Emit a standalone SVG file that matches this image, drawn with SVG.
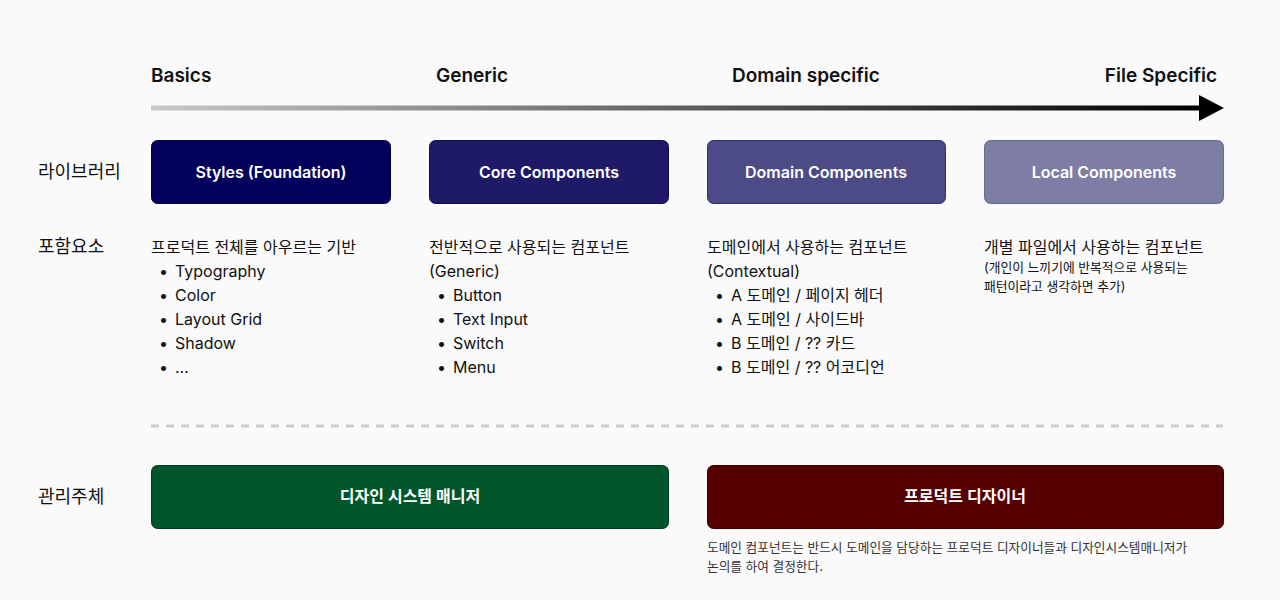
<svg xmlns="http://www.w3.org/2000/svg" width="1280" height="600" viewBox="0 0 1280 600">
<defs>
<linearGradient id="arrowGrad" x1="151" y1="0" x2="1205" y2="0" gradientUnits="userSpaceOnUse">
<stop offset="0" stop-color="#c8c8c8"/>
<stop offset="0.55" stop-color="#555555"/>
<stop offset="1" stop-color="#000000"/>
</linearGradient>
<style>
text{font-family:Inter,"Noto Sans CJK KR",sans-serif;fill:#111;}
.hdr{font-size:19px;font-weight:600;}
.lbl{font-size:18px;}
.box{stroke-width:1;}
.btxt{font-size:16px;font-weight:600;fill:#fff;text-anchor:middle;dominant-baseline:central;}
.it{font-size:16px;}
.sm{font-size:12.8px;}
.note{font-size:12.7px;fill:#333;}
</style>
</defs>
<rect width="1280" height="600" fill="#fafafa"/>
<g id="headers">
<text class="hdr" x="151" y="82">Basics</text>
<text class="hdr" x="436" y="82">Generic</text>
<text class="hdr" x="732" y="82">Domain specific</text>
<text class="hdr" x="1217" y="82" text-anchor="end">File Specific</text>
</g>
<g id="connectors">
<rect x="151" y="105.5" width="1052" height="5" fill="url(#arrowGrad)"/>
<polygon points="1199,95 1224,108 1199,121" fill="#000"/>
<line x1="151" y1="426" x2="1223" y2="426" stroke="#cccccc" stroke-width="3" stroke-dasharray="8 7"/>
</g>
<g id="row-labels">
<text class="lbl" x="38" y="178">라이브러리</text>
<text class="lbl" x="38" y="253">포함요소</text>
<text class="lbl" x="38" y="503">관리주체</text>
</g>
<g id="node-styles">
<rect class="box" x="151.5" y="140.5" width="239" height="63" rx="6" fill="#01005a" stroke="#000040"/>
<text class="btxt" x="271" y="172">Styles (Foundation)</text>
</g>
<g id="node-core">
<rect class="box" x="429.5" y="140.5" width="239" height="63" rx="6" fill="#1f1a68" stroke="#110e50"/>
<text class="btxt" x="549" y="172">Core Components</text>
</g>
<g id="node-domain">
<rect class="box" x="707.5" y="140.5" width="238" height="63" rx="6" fill="#4c4b86" stroke="#2e2d6e"/>
<text class="btxt" x="826" y="172">Domain Components</text>
</g>
<g id="node-local">
<rect class="box" x="984.5" y="140.5" width="239" height="63" rx="6" fill="#7e7da5" stroke="#6a6994"/>
<text class="btxt" x="1104" y="172">Local Components</text>
</g>
<g id="list-styles">
<text class="it" x="151" y="253">프로덕트 전체를 아우르는 기반</text>
<text class="it" x="159" y="277">•<tspan x="175">Typography</tspan></text>
<text class="it" x="159" y="301">•<tspan x="175">Color</tspan></text>
<text class="it" x="159" y="325">•<tspan x="175">Layout Grid</tspan></text>
<text class="it" x="159" y="349">•<tspan x="175">Shadow</tspan></text>
<text class="it" x="159" y="373">•<tspan x="175">...</tspan></text>
</g>
<g id="list-core">
<text class="it" x="429" y="253">전반적으로 사용되는 컴포넌트</text>
<text class="it" x="429" y="277">(Generic)</text>
<text class="it" x="437" y="301">•<tspan x="453">Button</tspan></text>
<text class="it" x="437" y="325">•<tspan x="453">Text Input</tspan></text>
<text class="it" x="437" y="349">•<tspan x="453">Switch</tspan></text>
<text class="it" x="437" y="373">•<tspan x="453">Menu</tspan></text>
</g>
<g id="list-domain">
<text class="it" x="707" y="253">도메인에서 사용하는 컴포넌트</text>
<text class="it" x="707" y="277">(Contextual)</text>
<text class="it" x="715" y="301">•<tspan x="731">A 도메인 / 페이지 헤더</tspan></text>
<text class="it" x="715" y="325">•<tspan x="731">A 도메인 / 사이드바</tspan></text>
<text class="it" x="715" y="349">•<tspan x="731">B 도메인 / ?? 카드</tspan></text>
<text class="it" x="715" y="373">•<tspan x="731">B 도메인 / ?? 어코디언</tspan></text>
</g>
<g id="list-local">
<text class="it" x="984" y="253">개별 파일에서 사용하는 컴포넌트</text>
<text class="sm" x="984" y="272">(개인이 느끼기에 반복적으로 사용되는</text>
<text class="sm" x="984" y="291">패턴이라고 생각하면 추가)</text>
</g>
<g id="node-dsm">
<rect class="box" x="151.5" y="465.5" width="517" height="63" rx="6" fill="#00552a" stroke="#003d1e"/>
<text class="btxt" x="410" y="496">디자인 시스템 매니저</text>
</g>
<g id="node-pd">
<rect class="box" x="707.5" y="465.5" width="516" height="63" rx="6" fill="#550000" stroke="#3d0000"/>
<text class="btxt" x="965" y="496">프로덕트 디자이너</text>
</g>
<g id="note">
<text class="note" x="707" y="552">도메인 컴포넌트는 반드시 도메인을 담당하는 프로덕트 디자이너들과 디자인시스템매니저가</text>
<text class="note" x="707" y="571">논의를 하여 결정한다.</text>
</g>
</svg>
